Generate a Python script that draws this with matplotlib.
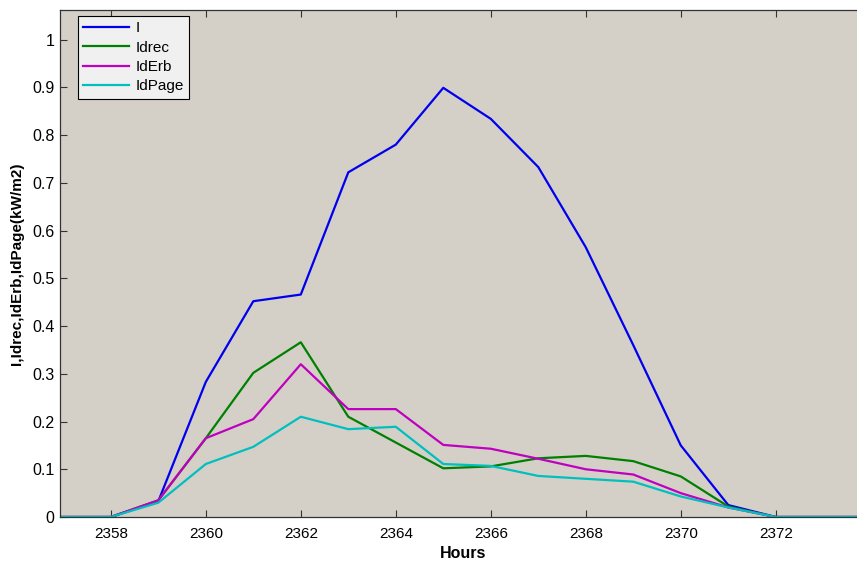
import matplotlib
matplotlib.use("Agg")
import matplotlib.pyplot as plt

hours = [2356, 2357, 2358, 2359, 2360, 2361, 2362, 2363, 2364, 2365, 2366, 2367, 2368, 2369, 2370, 2371, 2372, 2373, 2374]
I_vals = [0, 0, 0, 0.033, 0.283, 0.452, 0.466, 0.722, 0.78, 0.899, 0.834, 0.733, 0.565, 0.36, 0.15, 0.025, 0, 0, 0]
Idrec = [0, 0, 0, 0.035, 0.165, 0.302, 0.366, 0.21, 0.156, 0.102, 0.106, 0.123, 0.128, 0.117, 0.085, 0.022, 0, 0, 0]
IdErb = [0, 0, 0, 0.035, 0.165, 0.205, 0.32, 0.226, 0.226, 0.151, 0.143, 0.122, 0.1, 0.089, 0.05, 0.02, 0, 0, 0]
IdPage = [0, 0, 0, 0.03, 0.111, 0.147, 0.21, 0.184, 0.189, 0.111, 0.107, 0.086, 0.08, 0.074, 0.043, 0.02, 0, 0, 0]
series_names = ["I", "Idrec", "IdErb", "IdPage"]
colors = ["#0000ee", "#008000", "#c000c0", "#00bfbf"]
xticks = [2358, 2360, 2362, 2364, 2366, 2368, 2370, 2372]
yticks = [0, 0.1, 0.2, 0.3, 0.4, 0.5, 0.6, 0.7, 0.8, 0.9, 1]
ytick_labels = ["0", "0.1", "0.2", "0.3", "0.4", "0.5", "0.6", "0.7", "0.8", "0.9", "1"]

plt.rcParams['font.family'] = ['Liberation Sans', 'DejaVu Sans']

fig = plt.figure(figsize=(8.57, 5.63), dpi=100)
# axes extends slightly beyond the right edge of the figure (right spine cropped off)
ax = fig.add_axes([60 / 857, 46 / 563, 806 / 857, 507 / 563])
ax.set_facecolor("#d4d0c8")

for name, vals, c in zip(series_names, [I_vals, Idrec, IdErb, IdPage], colors):
    ax.plot(hours, vals, color=c, lw=1.6, label=name)

ax.set_xlim(2356.93, 2373.9)
ax.set_ylim(0, 1.062)
ax.set_xticks(xticks)
ax.set_xticklabels([str(t) for t in xticks], fontsize=11)
ax.set_yticks(yticks)
ax.set_yticklabels(ytick_labels, fontsize=11.5)
ax.tick_params(direction='in', top=True, right=False, length=5, width=0.8,
               color="#333333")
ax.tick_params(axis='x', pad=7)
ax.tick_params(axis='y', pad=4)
for s in ax.spines.values():
    s.set_linewidth(0.9)
    s.set_edgecolor("#333333")

ax.set_xlabel("Hours", fontsize=11.5, fontweight='bold', labelpad=4)
ax.set_ylabel("I,Idrec,IdErb,IdPage(kW/m2)", fontsize=11, fontweight='bold', labelpad=6)

leg = ax.legend(loc='upper left', bbox_to_anchor=(18 / 806, 0.988), fontsize=11,
                frameon=True, fancybox=False, handlelength=3.0, handletextpad=0.4,
                borderpad=0.35, labelspacing=0.35, borderaxespad=0)
leg.get_frame().set_facecolor("#f0f0f0")
leg.get_frame().set_edgecolor("black")
leg.get_frame().set_linewidth(0.8)
leg.get_frame().set_alpha(1)

fig.savefig("out.png", dpi=100)
